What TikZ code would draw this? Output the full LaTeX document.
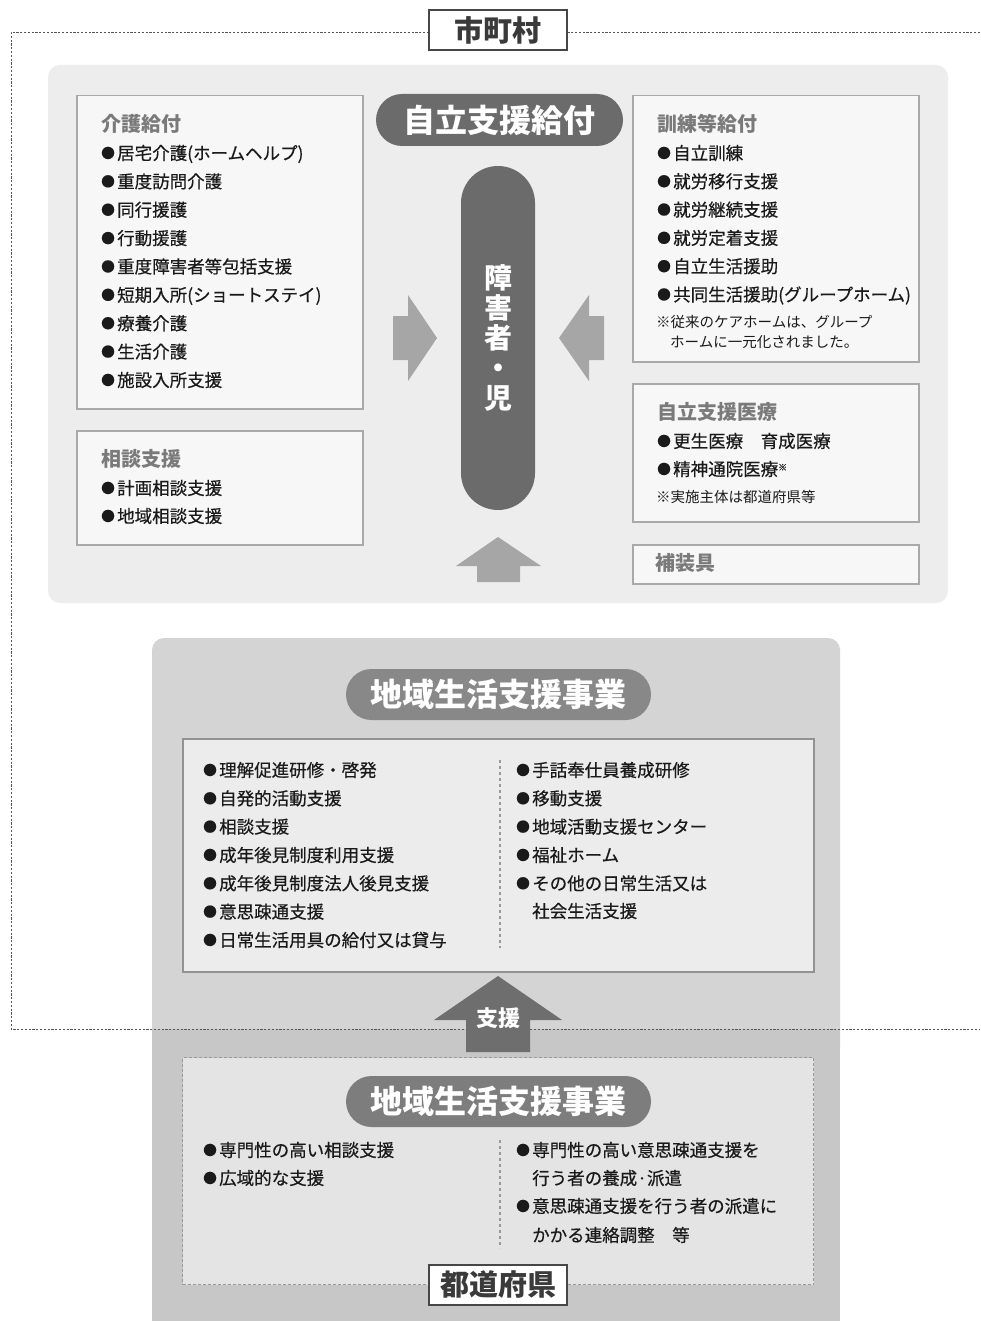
\documentclass[tikz,border=0pt]{standalone}
\usepackage{fontspec}
\setmainfont{Noto Sans CJK JP}
\newfontfamily\itemfont[FakeBold=0.45]{Noto Sans CJK JP}
\definecolor{framec}{HTML}{555555}
\definecolor{panelA}{HTML}{EDEDED}
\definecolor{boxfill}{HTML}{F7F7F7}
\definecolor{boxline}{HTML}{A9A9A9}
\definecolor{titlec}{HTML}{7A7A7A}
\definecolor{pilldark}{HTML}{6B6B6B}
\definecolor{arrowlight}{HTML}{A6A6A6}
\definecolor{arrowdark}{HTML}{6E6E6E}
\definecolor{panelB}{HTML}{D4D4D4}
\definecolor{panelC}{HTML}{C7C7C7}
\definecolor{pillmid}{HTML}{888888}
\definecolor{pilllow}{HTML}{7D7D7D}
\definecolor{innerB}{HTML}{ECECEC}
\definecolor{innerC}{HTML}{E4E4E4}
\definecolor{innerline}{HTML}{929292}
\definecolor{textc}{HTML}{1A1A1A}
\definecolor{labeltext}{HTML}{3A3A3A}
\newcommand{\bul}{\makebox[16pt][l]{\raisebox{1.5pt}{\scalebox{0.78}{●}}}}
\begin{document}
\begin{tikzpicture}[x=1pt,y=-1pt,
  itemtxt/.style={anchor=west, inner sep=0, text=textc,
    font=\itemfont\fontsize{17.5}{20}\selectfont, text height=15.4pt, text depth=2.1pt},
  notetxt/.style={anchor=west, inner sep=0, text=textc,
    font=\fontsize{14.5}{16}\selectfont, text height=12.8pt, text depth=1.7pt},
  titletxt/.style={anchor=west, inner sep=0, text=titlec,
    font=\bfseries\fontsize{20}{22}\selectfont, text height=17.6pt, text depth=2.4pt},
  boxA/.style={draw=boxline, line width=1.5pt, fill=boxfill, anchor=north west, inner sep=0},
  pill/.style={fill=pilldark, text=white, inner sep=0, font=\bfseries\fontsize{32}{34}\selectfont},
  labelbox/.style={draw=black!72, line width=2.2pt, fill=white, text=labeltext, inner sep=0,
    minimum width=138, minimum height=40, font=\bfseries\fontsize{29}{30}\selectfont},
  divider/.style={draw=black!40, line width=1.2pt, dash pattern=on 3pt off 3pt},
  framedash/.style={draw=framec, line width=0.8pt, dash pattern=on 2.2pt off 1.6pt}
]
\useasboundingbox (0,0) rectangle (980,1321);
\fill[white] (0,0) rectangle (980,1321);

% ---------- lower panel ----------
\fill[panelB, rounded corners=12] (152,638) rectangle (840,1060);
\fill[panelC] (152,1029) rectangle (840,1321);

% ---------- outer dashed frame (municipality) ----------
\coordinate (fTR) at (980,32);
\coordinate (fTL) at (11,32);
\coordinate (fBL) at (11,1029);
\coordinate (fBR) at (980,1029);
\draw[framedash] (fTR) -- (fTL) -- (fBL) -- (fBR);

% ---------- upper panel ----------
\fill[panelA, rounded corners=12] (48,65) rectangle (948,603);

% boxes
\node[boxA, minimum width=286, minimum height=313] (kaigo) at (76,95) {};
\node[boxA, minimum width=286, minimum height=114] (soudan) at (76,430) {};
\node[boxA, minimum width=286, minimum height=266] (kunren) at (632,95) {};
\node[boxA, minimum width=286, minimum height=138] (iryo) at (632,383) {};
\node[boxA, minimum width=286, minimum height=39] (hosougu) at (632,544) {};

% 介護給付
\node[titletxt] (t1) at (101,124) {介護給付};
\foreach \txt [count=\i from 0] in {居宅介護(ホームヘルプ),重度訪問介護,同行援護,行動援護,重度障害者等包括支援,短期入所(ショートステイ),療養介護,生活介護,施設入所支援}
  \node[itemtxt] (k\i) at (101,153+28.375*\i) {\bul\txt};

% 相談支援
\node[titletxt] (t2) at (101,459) {相談支援};
\node[itemtxt] (s1) at (101,488) {\bul 計画相談支援};
\node[itemtxt] (s2) at (101,516) {\bul 地域相談支援};

% 訓練等給付
\node[titletxt] (t3) at (657,124) {訓練等給付};
\foreach \txt [count=\i from 0] in {自立訓練,就労移行支援,就労継続支援,就労定着支援,自立生活援助,共同生活援助(グループホーム)}
  \node[itemtxt] (r\i) at (657,153+28.3*\i) {\bul\txt};
\node[notetxt] (n1) at (656,322) {※従来のケアホームは、グループ};
\node[notetxt] (n2) at (670,342) {ホームに一元化されました。};

% 自立支援医療
\node[titletxt] (t4) at (657,412) {自立支援医療};
\node[itemtxt] (m1) at (657,441) {\bul 更生医療　育成医療};
\node[itemtxt] (m2) at (657,469) {\bul 精神通院医療\raisebox{5pt}{\fontsize{9}{10}\selectfont ※}};
\node[notetxt] (n3) at (656,497) {※実施主体は都道府県等};

% 補装具
\node[titletxt] (t5) at (655,563) {補装具};

% central pills
\node[pill, rounded corners=26, minimum width=247, minimum height=52] (jiritsu) at (499.5,120) {自立支援給付};
\node[pill, rounded corners=37, minimum width=74, minimum height=344, align=center,
  font=\bfseries\fontsize{28}{30}\selectfont] (person) at (498,338) {障\\害\\者\\・\\児};

% light arrows
\fill[arrowlight] (393,316) -- (408,316) -- (408,295) -- (437,338) -- (408,381) -- (408,360) -- (393,360) -- cycle;
\fill[arrowlight] (604,316) -- (589,316) -- (589,295) -- (559,338) -- (589,381) -- (589,360) -- (604,360) -- cycle;
\fill[arrowlight] (477,582) -- (477,566) -- (456,566) -- (498,537) -- (541,566) -- (520,566) -- (520,582) -- cycle;

% ---------- 地域生活支援事業 (municipal) ----------
\node[pill, fill=pillmid, rounded corners=25.5, minimum width=305, minimum height=51] (chiiki1) at (498.5,694.5) {地域生活支援事業};
\node[draw=innerline, line width=1.5pt, fill=innerB, anchor=north west, inner sep=0,
  minimum width=631, minimum height=233] (mid) at (182,738) {};
\draw[divider] (500,760) -- (500,948);
\foreach \txt [count=\i from 0] in {理解促進研修・啓発,自発的活動支援,相談支援,成年後見制度利用支援,成年後見制度法人後見支援,意思疎通支援,日常生活用具の給付又は貸与}
  \node[itemtxt] (a\i) at (203,770+28.33*\i) {\bul\txt};
\foreach \txt [count=\i from 0] in {手話奉仕員養成研修,移動支援,地域活動支援センター,福祉ホーム,その他の日常生活又は}
  \node[itemtxt] (b\i) at (516,770+28.33*\i) {\bul\txt};
\node[itemtxt] (b5) at (532,911) {社会生活支援};

% ---------- prefecture part ----------
\node[draw=black!40, line width=1pt, dash pattern=on 3pt off 2pt, fill=innerC, anchor=north west, inner sep=0,
  minimum width=631, minimum height=227] (low) at (182,1057) {};
\draw[divider] (500,1140) -- (500,1248);
\node[pill, fill=pilllow, rounded corners=25.5, minimum width=305, minimum height=51] (chiiki2) at (498.5,1101.5) {地域生活支援事業};
\node[itemtxt] (c0) at (203,1150) {\bul 専門性の高い相談支援};
\node[itemtxt] (c1) at (203,1178) {\bul 広域的な支援};
\node[itemtxt] (d0) at (516,1150) {\bul 専門性の高い意思疎通支援を};
\node[itemtxt] (d1) at (532,1178) {行う者の養成·派遣};
\node[itemtxt] (d2) at (516,1206) {\bul 意思疎通支援を行う者の派遣に};
\node[itemtxt] (d3) at (532,1235) {かかる連絡調整　等};

% support arrow
\fill[arrowdark] (466,1052) -- (466,1020) -- (434,1020) -- (498,976) -- (562,1020) -- (530,1020) -- (530,1052) -- cycle;
\node[text=white, inner sep=0, font=\bfseries\fontsize{22}{24}\selectfont] (shien) at (498,1018) {支援};

% labels
\node[labelbox] (shichoson) at (498,30) {市町村};
\node[labelbox] (todofuken) at (498,1285) {都道府県};
\end{tikzpicture}
\end{document}
